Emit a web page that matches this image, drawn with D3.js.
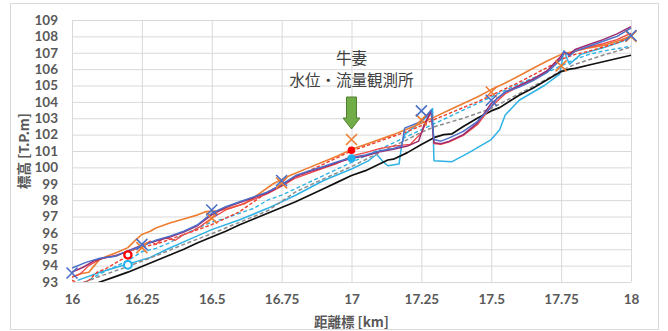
<!DOCTYPE html>
<html>
<head>
<meta charset="utf-8">
<script src="https://cdn.jsdelivr.net/npm/d3@7"></script>
<style>
  html, body { margin: 0; padding: 0; background: #fff; }
  svg { display: block; }
</style>
</head>
<body>
<svg id="chart" width="668" height="331"></svg>
<script>
// Longitudinal profile: elevation [T.P.m] against distance marker [km]
const kmTicks = [16, 16.25, 16.5, 16.75, 17, 17.25, 17.5, 17.75, 18];
const elevTicks = d3.range(93, 110, 1);

// Each series is a list of [km, elevation] pairs
const blackSolid = [[16.0,92.3],[16.05,92.65],[16.1,93.0],[16.15,93.3],[16.2,93.6],[16.25,93.95],[16.3,94.3],[16.35,94.65],[16.4,95.0],[16.45,95.4],[16.5,95.75],[16.55,96.1],[16.6,96.5],[16.65,96.85],[16.7,97.2],[16.75,97.55],[16.8,97.9],[16.85,98.3],[16.9,98.7],[16.95,99.1],[17.0,99.5],[17.05,99.8],[17.1,100.2],[17.13,100.45],[17.15,100.5],[17.2,100.9],[17.25,101.4],[17.3,101.85],[17.33,102.0],[17.36,102.05],[17.4,102.5],[17.45,103.0],[17.5,103.45],[17.53,103.65],[17.6,104.4],[17.65,104.85],[17.7,105.35],[17.75,105.85],[17.78,106.0],[17.8,106.05],[17.85,106.25],[17.9,106.45],[17.95,106.65],[18.0,106.85]];
const grayDashed = [[16.0,92.7],[16.1,93.35],[16.2,93.95],[16.3,94.6],[16.4,95.3],[16.5,95.95],[16.6,96.65],[16.7,97.35],[16.8,98.5],[16.9,99.3],[17.0,100.05],[17.1,100.9],[17.2,101.7],[17.25,102.15],[17.3,102.5],[17.4,103.0],[17.5,103.6],[17.6,104.5],[17.7,105.4],[17.75,105.9],[17.8,106.3],[17.9,106.85],[18.0,107.35]];
const orangeSolid = [[16.0,93.3],[16.03,93.5],[16.06,93.6],[16.08,94.0],[16.1,94.4],[16.13,94.6],[16.16,94.8],[16.2,95.1],[16.23,95.6],[16.25,95.9],[16.28,96.1],[16.3,96.3],[16.35,96.6],[16.4,96.85],[16.45,97.1],[16.48,97.3],[16.52,97.35],[16.55,97.45],[16.62,97.8],[16.67,98.4],[16.72,99.0],[16.78,99.5],[16.85,100.0],[16.9,100.35],[16.95,100.7],[17.0,101.1],[17.05,101.4],[17.1,101.7],[17.15,102.0],[17.2,102.35],[17.25,102.7],[17.3,103.1],[17.35,103.5],[17.4,103.9],[17.45,104.3],[17.5,104.75],[17.55,105.15],[17.6,105.6],[17.65,106.05],[17.7,106.5],[17.75,106.9],[17.8,107.1],[17.85,107.3],[17.9,107.45],[17.95,107.7],[18.0,108.0]];
const redDashed = [[16.0,93.1],[16.03,92.9],[16.06,93.1],[16.09,93.6],[16.12,93.8],[16.15,94.1],[16.18,94.4],[16.21,94.9],[16.25,95.15],[16.3,95.3],[16.35,95.6],[16.4,95.9],[16.45,96.2],[16.5,96.5],[16.55,96.9],[16.6,97.3],[16.65,97.9],[16.7,98.5],[16.75,98.95],[16.8,99.4],[16.85,99.8],[16.9,100.2],[16.95,100.6],[17.0,101.0],[17.05,101.3],[17.1,101.6],[17.15,101.9],[17.2,102.2],[17.25,102.55],[17.3,102.95],[17.35,103.3],[17.4,103.65],[17.45,104.0],[17.5,104.4],[17.55,104.8],[17.6,105.2],[17.65,105.65],[17.7,106.1],[17.75,106.6],[17.8,106.9],[17.85,107.1],[17.9,107.35],[17.95,107.6],[18.0,107.95]];
const cyanSolid = [[16.02,93.1],[16.1,93.6],[16.16,93.9],[16.22,94.2],[16.28,94.5],[16.34,95.0],[16.42,95.6],[16.5,96.2],[16.6,96.8],[16.7,97.5],[16.8,98.3],[16.9,99.2],[17.0,99.9],[17.06,100.4],[17.09,100.8],[17.11,100.4],[17.13,100.1],[17.17,100.2],[17.18,101.4],[17.19,102.0],[17.27,103.1],[17.29,103.6],[17.295,100.4],[17.36,100.35],[17.42,100.9],[17.5,101.7],[17.53,102.3],[17.55,103.2],[17.6,104.1],[17.69,105.0],[17.745,105.7],[17.76,107.1],[17.78,106.3],[17.82,106.9],[17.9,107.3],[17.97,107.7],[18.0,108.1]];
const cyanDashed = [[16.0,92.6],[16.05,93.0],[16.1,93.5],[16.15,93.9],[16.2,94.3],[16.25,94.85],[16.3,95.05],[16.35,95.4],[16.4,95.9],[16.45,96.3],[16.5,96.65],[16.55,96.9],[16.6,97.2],[16.65,97.5],[16.7,98.0],[16.75,98.3],[16.8,98.7],[16.9,99.5],[17.0,100.3],[17.1,101.1],[17.2,101.9],[17.3,102.7],[17.4,103.5],[17.5,104.3],[17.6,105.1],[17.7,105.8],[17.75,106.2],[17.8,106.6],[17.85,106.9],[17.9,107.1],[17.95,107.25],[18.0,107.4]];
const blueSolid = [[16.0,93.85],[16.05,94.2],[16.1,94.45],[16.15,94.55],[16.2,94.9],[16.25,95.2],[16.3,95.55],[16.35,95.8],[16.4,96.1],[16.45,96.5],[16.5,97.2],[16.55,97.6],[16.6,97.9],[16.65,98.2],[16.7,98.5],[16.75,98.95],[16.8,99.5],[16.85,99.8],[16.9,100.05],[16.95,100.35],[17.0,100.6],[17.05,100.75],[17.1,101.0],[17.15,101.15],[17.18,101.3],[17.19,102.4],[17.25,102.8],[17.285,103.5],[17.295,101.7],[17.32,101.6],[17.35,101.8],[17.4,102.2],[17.45,102.8],[17.5,103.7],[17.52,104.2],[17.55,104.6],[17.6,104.9],[17.65,105.3],[17.7,105.8],[17.75,106.6],[17.76,107.1],[17.78,106.8],[17.8,107.1],[17.85,107.4],[17.9,107.7],[17.95,108.0],[18.0,108.5]];
const purpleSolid = [[16.0,93.6],[16.04,93.9],[16.08,94.3],[16.12,94.5],[16.16,94.6],[16.2,94.9],[16.25,95.25],[16.3,95.5],[16.35,95.75],[16.4,96.05],[16.45,96.45],[16.5,97.1],[16.55,97.55],[16.6,97.85],[16.65,98.15],[16.7,98.45],[16.75,98.9],[16.8,99.45],[16.85,99.75],[16.9,100.0],[16.95,100.3],[17.0,100.55],[17.05,100.7],[17.1,100.95],[17.15,101.1],[17.2,101.3],[17.24,101.6],[17.26,102.6],[17.285,103.45],[17.295,101.5],[17.32,101.45],[17.35,101.6],[17.4,102.0],[17.45,102.7],[17.5,103.9],[17.55,104.6],[17.6,105.0],[17.65,105.4],[17.7,105.9],[17.75,106.8],[17.76,107.05],[17.78,106.9],[17.8,107.2],[17.85,107.5],[17.9,107.8],[17.95,108.15],[18.0,108.6]];
const redSolid = [[16.0,93.3],[16.03,93.5],[16.06,94.0],[16.1,94.4],[16.15,94.6],[16.2,94.85],[16.25,95.2],[16.28,95.5],[16.3,95.3],[16.33,95.7],[16.37,95.55],[16.4,95.9],[16.43,96.1],[16.46,96.4],[16.5,96.9],[16.55,97.4],[16.6,97.7],[16.65,98.05],[16.7,98.4],[16.75,98.85],[16.8,99.35],[16.85,99.65],[16.9,99.95],[16.95,100.25],[17.0,100.7],[17.05,100.9],[17.1,101.15],[17.15,101.3],[17.21,101.4],[17.25,102.1],[17.285,103.4],[17.295,101.45],[17.32,101.4],[17.35,101.55],[17.4,101.95],[17.45,102.6],[17.5,103.7],[17.55,104.5],[17.6,104.95],[17.65,105.35],[17.7,105.85],[17.75,106.7],[17.76,107.0],[17.78,106.85],[17.8,107.1],[17.85,107.35],[17.9,107.55],[17.95,107.8],[18.0,108.2]];

// Point markers
const blueCross = [[16.0,93.55],[16.25,95.3],[16.5,97.4],[16.75,99.2],[17.25,103.45],[17.5,104.1],[18.0,108.05]];
const orangeCross = [[16.25,95.1],[16.5,96.9],[16.75,99.05],[17.0,101.7],[17.25,102.9],[17.5,104.6],[17.75,106.2],[18.0,108.0]];
const redRing = [[16.2,94.65]];
const cyanRing = [[16.2,94.05]];
const redDot = [[17.0,101.05]];
const cyanDot = [[17.0,100.55]];

const stationKm = 17.0;
const stationLines = ["牛妻", "水位・流量観測所"];

const svg = d3.select("#chart");
const plot = { left: 72, right: 631, top: 20, bottom: 282 };

const x = d3.scaleLinear().domain([16, 18]).range([plot.left, plot.right]);
const y = d3.scaleLinear().domain([93, 109]).range([plot.bottom, plot.top]);

// Outer chart frame
svg.append("rect")
  .attr("x", 10.5).attr("y", 3.5).attr("width", 648).attr("height", 326)
  .attr("fill", "#fff").attr("stroke", "#d9d9d9").attr("stroke-width", 1);

// Gridlines
const gridG = svg.append("g");
gridG.append("g")
  .attr("transform", `translate(${plot.left},0)`)
  .call(d3.axisLeft(y).tickValues(elevTicks).tickSize(-(plot.right - plot.left)).tickFormat(""))
  .call(g => g.select(".domain").remove())
  .call(g => g.selectAll("line").attr("stroke", "#d9d9d9").attr("stroke-width", 1));
gridG.append("g")
  .attr("transform", `translate(0,${plot.bottom})`)
  .call(d3.axisBottom(x).tickValues(kmTicks).tickSize(-(plot.bottom - plot.top)).tickFormat(""))
  .call(g => g.select(".domain").remove())
  .call(g => g.selectAll("line").attr("stroke", "#d9d9d9").attr("stroke-width", 1));

// Tick labels
const labelFont = "Lato, 'Noto Sans', sans-serif";
svg.append("g")
  .attr("transform", `translate(${plot.left},0)`)
  .call(d3.axisLeft(y).tickValues(elevTicks).tickSize(0).tickPadding(14).tickFormat(d3.format("d")))
  .call(g => g.select(".domain").remove())
  .call(g => g.selectAll("text")
    .attr("font-family", labelFont).attr("font-weight", 700)
    .attr("font-size", 13.5).attr("fill", "#595959"));
svg.append("g")
  .attr("transform", `translate(0,${plot.bottom})`)
  .call(d3.axisBottom(x).tickValues(kmTicks).tickSize(0).tickPadding(12).tickFormat(d => String(+d.toFixed(2))))
  .call(g => g.select(".domain").remove())
  .call(g => g.selectAll("text")
    .attr("font-family", labelFont).attr("font-weight", 700)
    .attr("font-size", 13.5).attr("fill", "#595959"));

// Axis titles
svg.append("text")
  .attr("transform", `translate(29,${(plot.top + plot.bottom) / 2}) rotate(-90)`)
  .attr("text-anchor", "middle")
  .attr("font-family", "'Noto Sans CJK JP', sans-serif").attr("font-weight", 700)
  .attr("font-size", 13.5).attr("fill", "#595959")
  .text("標高 [T.P.m]");
svg.append("text")
  .attr("x", (plot.left + plot.right) / 2).attr("y", 327)
  .attr("text-anchor", "middle")
  .attr("font-family", "'Noto Sans CJK JP', sans-serif").attr("font-weight", 700)
  .attr("font-size", 13.5).attr("fill", "#595959")
  .text("距離標 [km]");

// Profile lines
svg.append("clipPath").attr("id", "plotClip")
  .append("rect")
  .attr("x", plot.left).attr("y", plot.top)
  .attr("width", plot.right - plot.left + 6).attr("height", plot.bottom - plot.top);

const line = d3.line().x(d => x(d[0])).y(d => y(d[1]));
const linesG = svg.append("g").attr("clip-path", "url(#plotClip)");

const seriesStyles = [
  { data: cyanSolid,   color: "#2eb2e6", width: 1.5, dash: null },
  { data: cyanDashed,  color: "#2eb2e6", width: 1.4, dash: "4,2.5" },
  { data: grayDashed,  color: "#8c8c8c", width: 1.5, dash: "4,2.5" },
  { data: blackSolid,  color: "#111111", width: 1.7, dash: null },
  { data: orangeSolid, color: "#ed7d31", width: 1.6, dash: null },
  { data: redDashed,   color: "#f03c28", width: 1.4, dash: "3.5,2" },
  { data: redSolid,    color: "#f04646", width: 1.3, dash: null },
  { data: purpleSolid, color: "#9c2a6e", width: 1.5, dash: null },
  { data: blueSolid,   color: "#4a6fc8", width: 1.5, dash: null }
];

seriesStyles.forEach(s => {
  linesG.append("path")
    .datum(s.data)
    .attr("fill", "none")
    .attr("stroke", s.color)
    .attr("stroke-width", s.width)
    .attr("stroke-linejoin", "round")
    .attr("stroke-dasharray", s.dash)
    .attr("d", line);
});

// Cross markers
function drawCrosses(points, color) {
  const r = 5.5;
  const g = svg.append("g");
  points.forEach(p => {
    const cx = x(p[0]), cy = y(p[1]);
    g.append("path")
      .attr("d", `M${cx - r},${cy - r}L${cx + r},${cy + r}M${cx - r},${cy + r}L${cx + r},${cy - r}`)
      .attr("stroke", color).attr("stroke-width", 1.6).attr("fill", "none");
  });
}
drawCrosses(orangeCross, "#ed7d31");
drawCrosses(blueCross, "#4a6fc8");

// Ring and dot markers
const markG = svg.append("g");
markG.selectAll(".redRing").data(redRing).join("circle")
  .attr("cx", d => x(d[0])).attr("cy", d => y(d[1])).attr("r", 3.6)
  .attr("fill", "#fff").attr("stroke", "#ff0000").attr("stroke-width", 2.3);
markG.selectAll(".cyanRing").data(cyanRing).join("circle")
  .attr("cx", d => x(d[0])).attr("cy", d => y(d[1])).attr("r", 3.9)
  .attr("fill", "#fff").attr("stroke", "#1fb0ec").attr("stroke-width", 2);
markG.selectAll(".redDot").data(redDot).join("circle")
  .attr("cx", d => x(d[0])).attr("cy", d => y(d[1])).attr("r", 3.8)
  .attr("fill", "#ff0000");
markG.selectAll(".cyanDot").data(cyanDot).join("circle")
  .attr("cx", d => x(d[0])).attr("cy", d => y(d[1])).attr("r", 4.2)
  .attr("fill", "#1fb0ec");

// Gauging station annotation
const ax = x(stationKm);
svg.append("path")
  .attr("d", `M${ax - 5},97 L${ax + 5},97 L${ax + 5},118 L${ax + 8.5},118 L${ax},129 L${ax - 8.5},118 L${ax - 5},118 Z`)
  .attr("fill", "#70ad47").attr("stroke", "#507e32").attr("stroke-width", 1);

svg.selectAll(".stationLabel").data(stationLines).join("text")
  .attr("x", ax).attr("y", (d, i) => 64 + i * 22)
  .attr("text-anchor", "middle")
  .attr("font-family", "'Noto Sans CJK JP', sans-serif")
  .attr("font-size", 15.5).attr("fill", "#404040")
  .text(d => d);
</script>
</body>
</html>
